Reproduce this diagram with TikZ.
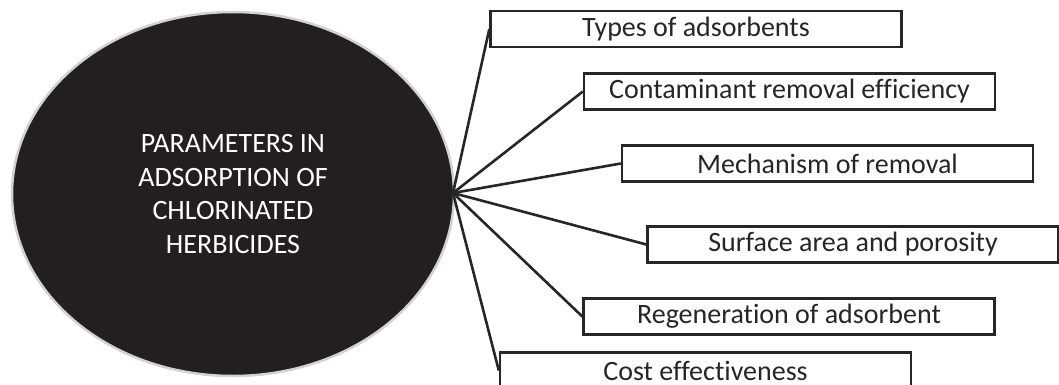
\documentclass[tikz,border=0pt]{standalone}
\usepackage{fontspec}
\setmainfont{Carlito}[Ligatures=NoCommon]
\usetikzlibrary{shapes.geometric}
\definecolor{ellfill}{HTML}{231F20}
\definecolor{inkc}{HTML}{262626}
\begin{document}
\begin{tikzpicture}[x=1pt,y=-1pt,
  parambox/.style={draw=inkc, line width=2.4pt, fill=white, rectangle, inner sep=0pt,
    minimum width=411pt, minimum height=36pt, text=inkc,
    font=\fontsize{28}{30}\selectfont},
  link/.style={draw=inkc, line width=2.6pt}]
\useasboundingbox (0,0) rectangle (1059,385);
\node[ellipse, draw=gray!35, line width=2.5pt, fill=ellfill, minimum width=442pt, minimum height=364pt,
  inner sep=0pt, text=white, align=center, font=\fontsize{28}{33.5}\selectfont] (c) at (233,194)
  {PARAMETERS IN\\ADSORPTION OF\\CHLORINATED\\HERBICIDES};
\coordinate (j) at (453,193);
\node[parambox] (b1) at (696,29) {Types of adsorbents};
\node[parambox] (b2) at (789.5,91.5) {Contaminant removal efficiency};
\node[parambox] (b3) at (827.5,163.5) {Mechanism of removal};
\node[parambox] (b4) at (853,244.5) {Surface area and porosity};
\node[parambox] (b5) at (789,316.5) {Regeneration of adsorbent};
\node[parambox] (b6) at (705.5,370.5) {Cost effectiveness};
\foreach \b in {b1,b2,b3,b4,b5,b6} \draw[link] (j) -- (\b.west);
\end{tikzpicture}
\end{document}
